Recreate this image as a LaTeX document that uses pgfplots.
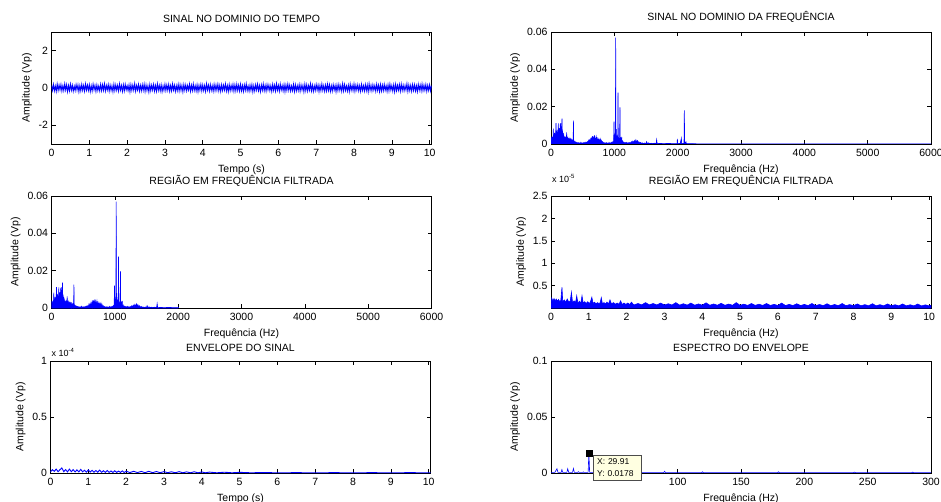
\documentclass[border=0pt]{standalone}
\usepackage{pgfplots}
\pgfplotsset{compat=1.18}
\usepackage{pgfplotstable}
\usepackage{fontspec}
\setmainfont{Liberation Sans}

\pgfplotsset{
  mat/.style={
    scale only axis, width=380pt, height=112pt,
    anchor=south west,
    axis line style={black, line width=0.6pt},
    tick style={black, line width=0.5pt},
    major tick length=4pt,
    tick align=inside,
    xtick pos=both, ytick pos=both,
    xticklabel pos=lower, yticklabel pos=left,
    scaled y ticks=false, scaled x ticks=false,
    tick label style={font=\fontsize{10.5}{12}\selectfont},
    xticklabel style={yshift=-1.5pt},
    label style={font=\fontsize{10.5}{12}\selectfont},
    xlabel style={yshift=-1.5pt},
    title style={font=\fontsize{10.5}{12}\selectfont},
    clip mode=individual,
    ylabel={Amplitude (Vp)},
  },
  sig/.style={blue, line width=0.6pt, mark=none},
}

% espectro (Hz, Vp) - regiao ate 2000 Hz
\pgfplotstableread{
f a
0 0.001
5 0.004
10 0.001
15 0.003
20 0.0015
25 0.004
30 0.002
37 0.0082
40 0.002
45 0.005
50 0.002
55 0.006
60 0.0025
65 0.0055
70 0.003
75 0.0065
79 0.0112
83 0.003
88 0.006
92 0.0035
96 0.0075
100 0.003
105 0.0065
110 0.004
116 0.0110
120 0.004
125 0.007
130 0.003
135 0.0085
140 0.004
146 0.0105
150 0.004
153 0.0112
157 0.005
162 0.0075
166 0.004
170 0.009
174 0.0136
178 0.005
183 0.007
188 0.003
193 0.006
198 0.002
203 0.005
208 0.0015
213 0.004
218 0.002
223 0.0035
228 0.0015
233 0.004
238 0.0015
243 0.003
247 0.0062
251 0.002
256 0.0035
261 0.0015
266 0.004
271 0.001
276 0.003
281 0.0012
286 0.0025
291 0.001
296 0.002
301 0.0008
306 0.0022
311 0.0008
316 0.002
321 0.0007
326 0.0018
331 0.0006
336 0.0015
341 0.0006
346 0.002
350 0.0006
354 0.0125
358 0.0006
363 0.0015
370 0.0005
378 0.0012
386 0.0004
394 0.001
402 0.0004
412 0.0008
422 0.0003
432 0.0007
442 0.0003
452 0.0006
462 0.0002
472 0.0009
482 0.0003
492 0.0006
502 0.0002
512 0.0007
522 0.0003
532 0.0008
542 0.0003
552 0.001
562 0.0004
572 0.0012
582 0.0005
590 0.0018
598 0.0006
606 0.002
614 0.0008
622 0.0025
630 0.0009
638 0.0028
646 0.001
654 0.0042
662 0.0012
670 0.0032
678 0.0012
686 0.0046
694 0.0013
702 0.003
710 0.0012
718 0.0035
726 0.001
734 0.0027
742 0.0011
750 0.0025
758 0.0009
766 0.0022
774 0.0008
782 0.0024
790 0.0007
798 0.0018
806 0.0005
816 0.0012
826 0.0004
836 0.0008
846 0.0003
856 0.0006
866 0.0003
876 0.0007
886 0.0002
896 0.0005
906 0.0002
916 0.0008
926 0.0003
936 0.0006
946 0.0003
956 0.0009
966 0.0004
976 0.0012
984 0.0005
990 0.002
995 0.012
999 0.002
1004 0.0045
1008 0.0015
1013 0.006
1017 0.002
1021 0.0570
1025 0.002
1030 0.008
1034 0.0018
1040 0.0045
1045 0.0015
1050 0.003
1054 0.0012
1058 0.0275
1062 0.0015
1068 0.0035
1073 0.001
1078 0.003
1083 0.001
1089 0.0196
1093 0.001
1100 0.0025
1106 0.0008
1116 0.0038
1122 0.0006
1132 0.0015
1140 0.0005
1150 0.001
1160 0.0004
1172 0.0008
1184 0.0003
1196 0.0009
1208 0.0003
1220 0.0007
1232 0.0003
1244 0.0008
1256 0.0004
1268 0.0012
1280 0.0005
1292 0.0015
1304 0.0006
1316 0.0018
1328 0.0007
1340 0.0022
1352 0.0008
1364 0.0018
1376 0.0006
1388 0.0012
1400 0.0004
1415 0.0008
1430 0.0003
1445 0.0006
1460 0.0002
1480 0.0005
1500 0.0002
1510 0.0012
1520 0.0002
1540 0.0006
1560 0.0002
1580 0.0004
1600 0.0002
1630 0.0004
1660 0.0002
1668 0.0023
1676 0.0002
1720 0.0003
1780 0.0002
1850 0.0003
1920 0.0002
1990 0.0002
}\specA

% espectro acima de 2000 Hz
\pgfplotstableread{
f a
1990 0.0002
1995 0.0027
2000 0.0002
2040 0.0003
2058 0.003
2064 0.0002
2100 0.0003
2105 0.018
2110 0.0003
2131 0.0012
2136 0.0002
2300 0.0001
6000 0.0001
}\specB

\begin{document}
\begin{tikzpicture}
\useasboundingbox (0pt,0pt) rectangle (941pt,-502pt);

% ---- sinal no tempo
\begin{axis}[mat, at={(51.5pt,-144pt)},
  title={SINAL NO DOMINIO DO TEMPO}, xlabel={Tempo (s)},
  xmin=0, xmax=10.05, ymin=-3, ymax=3,
  xtick={0,1,...,10}, xticklabels={0,1,2,3,4,5,6,7,8,9,10},
  ytick={-2,0,2}, yticklabels={-2,0,2}]
\addplot[sig, line width=0.9pt] coordinates {
(0,0.14)(0.025,-0.12)(0.05,0.19)(0.075,-0.15)(0.1,0.11)(0.125,-0.18)(0.15,0.21)(0.175,-0.13)(0.2,0.16)(0.225,-0.10)
(0.25,0.18)(0.275,-0.16)(0.3,0.12)(0.325,-0.14)(0.35,0.22)(0.375,-0.11)(0.4,0.17)(0.425,-0.19)(0.45,0.13)(0.475,-0.15)
(0.5,0.20)(0.525,-0.12)(0.55,0.15)(0.575,-0.17)(0.6,0.10)(0.625,-0.14)(0.65,0.18)(0.675,-0.11)(0.7,0.16)(0.725,-0.20)
(0.75,0.13)(0.775,-0.15)(0.8,0.19)(0.825,-0.12)(0.85,0.14)(0.875,-0.17)(0.9,0.21)(0.925,-0.11)(0.95,0.15)(0.975,-0.13)
(1,0.17)(1.025,-0.19)(1.05,0.12)(1.075,-0.16)(1.1,0.20)(1.125,-0.10)(1.15,0.14)(1.175,-0.18)(1.2,0.16)(1.225,-0.13)
(1.25,0.11)(1.275,-0.15)(1.3,0.19)(1.325,-0.14)(1.35,0.17)(1.375,-0.12)(1.4,0.22)(1.425,-0.16)(1.45,0.13)(1.475,-0.11)
(1.5,0.18)(1.525,-0.17)(1.55,0.15)(1.575,-0.13)(1.6,0.12)(1.625,-0.19)(1.65,0.20)(1.675,-0.14)(1.7,0.16)(1.725,-0.12)
(1.75,0.14)(1.775,-0.16)(1.8,0.21)(1.825,-0.11)(1.85,0.13)(1.875,-0.18)(1.9,0.17)(1.925,-0.15)(1.95,0.19)(1.975,-0.10)
(2,0.12)(2.025,-0.14)(2.05,0.16)(2.075,-0.20)(2.1,0.18)(2.125,-0.13)(2.15,0.15)(2.175,-0.12)(2.2,0.23)(2.225,-0.17)
(2.25,0.13)(2.275,-0.11)(2.3,0.19)(2.325,-0.16)(2.35,0.14)(2.375,-0.15)(2.4,0.17)(2.425,-0.12)(2.45,0.20)(2.475,-0.18)
(2.5,0.16)(2.525,-0.13)(2.55,0.12)(2.575,-0.21)(2.6,0.18)(2.625,-0.14)(2.65,0.15)(2.675,-0.11)(2.7,0.19)(2.725,-0.16)
(2.75,0.13)(2.775,-0.17)(2.8,0.22)(2.825,-0.12)(2.85,0.14)(2.875,-0.15)(2.9,0.17)(2.925,-0.19)(2.95,0.11)(2.975,-0.13)
(3,0.20)(3.025,-0.14)(3.05,0.16)(3.075,-0.12)(3.1,0.18)(3.125,-0.17)(3.15,0.13)(3.175,-0.15)(3.2,0.21)(3.225,-0.11)
(3.25,0.15)(3.275,-0.18)(3.3,0.12)(3.325,-0.14)(3.35,0.19)(3.375,-0.16)(3.4,0.17)(3.425,-0.13)(3.45,0.14)(3.475,-0.20)
(3.5,0.18)(3.525,-0.12)(3.55,0.16)(3.575,-0.15)(3.6,0.13)(3.625,-0.11)(3.65,0.20)(3.675,-0.17)(3.7,0.15)(3.725,-0.14)
(3.75,0.21)(3.775,-0.13)(3.8,0.12)(3.825,-0.16)(3.85,0.17)(3.875,-0.19)(3.9,0.14)(3.925,-0.12)(3.95,0.19)(3.975,-0.15)
(4,0.16)(4.025,-0.14)(4.05,0.13)(4.075,-0.18)(4.1,0.22)(4.125,-0.11)(4.15,0.15)(4.175,-0.16)(4.2,0.18)(4.225,-0.13)
(4.25,0.12)(4.275,-0.17)(4.3,0.19)(4.325,-0.14)(4.35,0.16)(4.375,-0.12)(4.4,0.20)(4.425,-0.15)(4.45,0.14)(4.475,-0.18)
(4.5,0.17)(4.525,-0.13)(4.55,0.15)(4.575,-0.11)(4.6,0.21)(4.625,-0.16)(4.65,0.13)(4.675,-0.19)(4.7,0.18)(4.725,-0.14)
(4.75,0.14)(4.775,-0.12)(4.8,0.19)(4.825,-0.17)(4.85,0.16)(4.875,-0.15)(4.9,0.20)(4.925,-0.13)(4.95,0.15)(4.975,-0.16)
(5,0.19)(5.025,-0.15)(5.05,0.13)(5.075,-0.18)(5.1,0.16)(5.125,-0.12)(5.15,0.22)(5.175,-0.14)(5.2,0.11)(5.225,-0.17)
(5.25,0.15)(5.275,-0.13)(5.3,0.18)(5.325,-0.20)(5.35,0.12)(5.375,-0.16)(5.4,0.17)(5.425,-0.11)(5.45,0.20)(5.475,-0.14)
(5.5,0.13)(5.525,-0.19)(5.55,0.16)(5.575,-0.12)(5.6,0.21)(5.625,-0.15)(5.65,0.14)(5.675,-0.17)(5.7,0.18)(5.725,-0.10)
(5.75,0.16)(5.775,-0.14)(5.8,0.12)(5.825,-0.18)(5.85,0.19)(5.875,-0.13)(5.9,0.15)(5.925,-0.16)(5.95,0.22)(5.975,-0.12)
(6,0.14)(6.025,-0.17)(6.05,0.20)(6.075,-0.11)(6.1,0.13)(6.125,-0.15)(6.15,0.18)(6.175,-0.19)(6.2,0.16)(6.225,-0.13)
(6.25,0.21)(6.275,-0.12)(6.3,0.15)(6.325,-0.16)(6.35,0.11)(6.375,-0.14)(6.4,0.19)(6.425,-0.18)(6.45,0.17)(6.475,-0.15)
(6.5,0.12)(6.525,-0.13)(6.55,0.18)(6.575,-0.17)(6.6,0.16)(6.625,-0.11)(6.65,0.14)(6.675,-0.20)(6.7,0.20)(6.725,-0.14)
(6.75,0.17)(6.775,-0.16)(6.8,0.13)(6.825,-0.12)(6.85,0.22)(6.875,-0.15)(6.9,0.15)(6.925,-0.18)(6.95,0.12)(6.975,-0.13)
(7,0.19)(7.025,-0.11)(7.05,0.16)(7.075,-0.19)(7.1,0.14)(7.125,-0.14)(7.15,0.21)(7.175,-0.12)(7.2,0.13)(7.225,-0.17)
(7.25,0.15)(7.275,-0.15)(7.3,0.20)(7.325,-0.13)(7.35,0.17)(7.375,-0.18)(7.4,0.12)(7.425,-0.16)(7.45,0.18)(7.475,-0.11)
(7.5,0.14)(7.525,-0.20)(7.55,0.16)(7.575,-0.14)(7.6,0.19)(7.625,-0.12)(7.65,0.13)(7.675,-0.17)(7.7,0.22)(7.725,-0.15)
(7.75,0.18)(7.775,-0.13)(7.8,0.11)(7.825,-0.16)(7.85,0.15)(7.875,-0.19)(7.9,0.20)(7.925,-0.12)(7.95,0.14)(7.975,-0.14)
(8,0.21)(8.025,-0.17)(8.05,0.15)(8.075,-0.11)(8.1,0.17)(8.125,-0.15)(8.15,0.13)(8.175,-0.18)(8.2,0.19)(8.225,-0.13)
(8.25,0.12)(8.275,-0.16)(8.3,0.18)(8.325,-0.14)(8.35,0.16)(8.375,-0.20)(8.4,0.22)(8.425,-0.12)(8.45,0.14)(8.475,-0.15)
(8.5,0.17)(8.525,-0.11)(8.55,0.13)(8.575,-0.17)(8.6,0.20)(8.625,-0.13)(8.65,0.15)(8.675,-0.19)(8.7,0.18)(8.725,-0.16)
(8.75,0.15)(8.775,-0.14)(8.8,0.19)(8.825,-0.12)(8.85,0.12)(8.875,-0.18)(8.9,0.17)(8.925,-0.15)(8.95,0.21)(8.975,-0.11)
(9,0.13)(9.025,-0.16)(9.05,0.16)(9.075,-0.20)(9.1,0.19)(9.125,-0.14)(9.15,0.14)(9.175,-0.12)(9.2,0.18)(9.225,-0.17)
(9.25,0.20)(9.275,-0.13)(9.3,0.15)(9.325,-0.15)(9.35,0.13)(9.375,-0.11)(9.4,0.22)(9.425,-0.18)(9.45,0.16)(9.475,-0.14)
(9.5,0.14)(9.525,-0.17)(9.55,0.18)(9.575,-0.13)(9.6,0.17)(9.625,-0.16)(9.65,0.12)(9.675,-0.19)(9.7,0.19)(9.725,-0.12)
(9.75,0.16)(9.775,-0.15)(9.8,0.21)(9.825,-0.14)(9.85,0.15)(9.875,-0.12)(9.9,0.18)(9.925,-0.17)(9.95,0.14)(9.975,-0.13)
(10,0.17)(10.025,-0.15)(10.05,0.13)};
\end{axis}

% ---- sinal na frequencia
\begin{axis}[mat, at={(551pt,-144pt)},
  title={SINAL NO DOMINIO DA FREQUÊNCIA}, xlabel={Frequência (Hz)},
  xmin=0, xmax=6000, ymin=0, ymax=0.06,
  xtick={0,1000,...,6000}, xticklabels={0,1000,2000,3000,4000,5000,6000},
  ytick={0,0.02,0.04,0.06}, yticklabels={0,0.02,0.04,0.06}]
\addplot[sig, fill=blue] table[x=f, y=a] {\specA} \closedcycle;
\addplot[sig, fill=blue] table[x=f, y=a] {\specB} \closedcycle;
\end{axis}

% ---- regiao filtrada
\begin{axis}[mat, at={(51.5pt,-308pt)},
  title={REGIÃO EM FREQUÊNCIA FILTRADA}, xlabel={Frequência (Hz)},
  xmin=0, xmax=6000, ymin=0, ymax=0.06,
  xtick={0,1000,...,6000}, xticklabels={0,1000,2000,3000,4000,5000,6000},
  ytick={0,0.02,0.04,0.06}, yticklabels={0,0.02,0.04,0.06}]
\addplot[sig, fill=blue] table[x=f, y=a] {\specA} \closedcycle;
\addplot[sig] coordinates {(1990,0.0002)(2000,0.0002)};
\end{axis}

% ---- regiao filtrada (baixa frequencia), valores x 1e-5
\begin{axis}[mat, at={(551pt,-308pt)},
  title={REGIÃO EM FREQUÊNCIA FILTRADA}, xlabel={Frequência (Hz)},
  xmin=0, xmax=10.05, ymin=0, ymax=2.5,
  xtick={0,1,...,10}, xticklabels={0,1,2,3,4,5,6,7,8,9,10},
  ytick={0.5,1,1.5,2,2.5}, yticklabels={0.5,1,1.5,2,2.5}]
\addplot[sig, fill=blue] coordinates {
(0,0.05)(0.02,0.22)(0.05,0.15)(0.08,0.21)(0.11,0.16)(0.14,0.2)(0.17,0.15)(0.2,0.19)(0.23,0.14)(0.26,0.17)
(0.29,0.46)(0.31,0.14)(0.35,0.18)(0.39,0.13)(0.43,0.2)(0.47,0.13)(0.51,0.16)(0.54,0.35)(0.57,0.12)(0.61,0.16)
(0.65,0.12)(0.68,0.27)(0.71,0.11)(0.75,0.15)(0.79,0.11)(0.82,0.27)(0.85,0.11)(0.89,0.14)(0.93,0.1)(0.97,0.14)
(1.01,0.1)(1.04,0.13)(1.08,0.24)(1.11,0.1)(1.15,0.13)(1.19,0.095)(1.23,0.12)(1.27,0.095)(1.30,0.12)(1.33,0.23)
(1.36,0.09)(1.40,0.12)(1.44,0.09)(1.48,0.13)(1.52,0.09)(1.56,0.18)(1.60,0.09)(1.65,0.12)(1.70,0.085)(1.75,0.11)
(1.80,0.085)(1.84,0.16)(1.88,0.08)(1.93,0.11)(1.98,0.08)(2.03,0.11)(2.08,0.08)(2.13,0.13)(2.18,0.075)
(2.2,0.07)(2.3,0.1)(2.4,0.07)(2.5,0.12)(2.6,0.07)(2.7,0.1)(2.8,0.068)(2.9,0.11)(3.0,0.066)(3.1,0.095)
(3.2,0.066)(3.3,0.12)(3.4,0.065)(3.5,0.095)(3.6,0.064)(3.7,0.11)(3.8,0.063)(3.9,0.09)(4.0,0.062)(4.1,0.115)
(4.2,0.062)(4.3,0.09)(4.4,0.061)(4.5,0.105)(4.6,0.06)(4.7,0.088)(4.8,0.06)(4.9,0.12)(5.0,0.059)(5.1,0.085)
(5.2,0.058)(5.3,0.1)(5.4,0.058)(5.5,0.085)(5.6,0.057)(5.7,0.1)(5.8,0.056)(5.9,0.082)(6.0,0.056)(6.1,0.11)
(6.2,0.055)(6.3,0.08)(6.4,0.055)(6.5,0.095)(6.6,0.054)(6.7,0.08)(6.8,0.054)(6.9,0.1)(7.0,0.053)(7.1,0.078)
(7.2,0.053)(7.3,0.095)(7.4,0.052)(7.5,0.078)(7.6,0.052)(7.7,0.1)(7.8,0.051)(7.9,0.076)(8.0,0.051)(8.1,0.09)
(8.2,0.05)(8.3,0.075)(8.4,0.05)(8.5,0.095)(8.6,0.05)(8.7,0.074)(8.8,0.049)(8.9,0.09)(9.0,0.049)(9.1,0.073)
(9.2,0.048)(9.3,0.09)(9.4,0.048)(9.5,0.072)(9.6,0.048)(9.7,0.088)(9.8,0.047)(9.9,0.07)(10.0,0.047)(10.05,0.06)
} \closedcycle;
\node[anchor=south west, inner sep=1pt, yshift=12pt, font=\fontsize{9}{10}\selectfont] at (rel axis cs:0,1) {x 10\textsuperscript{-5}};
\end{axis}

% ---- envelope, valores x 1e-4
\begin{axis}[mat, at={(50.5pt,-473pt)},
  title={ENVELOPE DO SINAL}, xlabel={Tempo (s)},
  xmin=0, xmax=10.05, ymin=0, ymax=1,
  xtick={0,1,...,10}, xticklabels={0,1,2,3,4,5,6,7,8,9,10},
  ytick={0,0.5,1}, yticklabels={0,0.5,1}]
\addplot[sig, line width=0.9pt] coordinates {
(0,0.01)(0.05,0.03)(0.1,0.015)(0.15,0.035)(0.2,0.012)(0.25,0.03)(0.3,0.045)(0.35,0.012)(0.4,0.03)(0.45,0.01)
(0.5,0.035)(0.55,0.012)(0.6,0.03)(0.65,0.01)(0.7,0.028)(0.75,0.01)(0.8,0.032)(0.85,0.01)(0.9,0.025)(0.95,0.008)
(1.0,0.028)(1.05,0.008)(1.1,0.024)(1.15,0.007)(1.2,0.022)(1.25,0.007)(1.3,0.026)(1.35,0.006)(1.4,0.02)(1.45,0.006)
(1.5,0.022)(1.55,0.006)(1.6,0.018)(1.65,0.005)(1.7,0.02)(1.75,0.005)(1.8,0.017)(1.85,0.005)(1.9,0.019)(1.95,0.004)
(2.0,0.016)(2.1,0.004)(2.2,0.015)(2.3,0.004)(2.4,0.014)(2.5,0.003)(2.6,0.015)(2.7,0.003)(2.8,0.013)(2.9,0.003)
(3.0,0.012)(3.1,0.003)(3.2,0.011)(3.3,0.002)(3.4,0.012)(3.5,0.002)(3.6,0.01)(3.7,0.002)(3.8,0.011)(3.9,0.002)
(4.0,0.009)(4.1,0.002)(4.2,0.008)(4.4,0.002)(4.6,0.007)(4.8,0.002)(5.0,0.006)(5.3,0.002)(5.6,0.004)(6.0,0.002)
(6.5,0.003)(7.0,0.002)(7.5,0.003)(8.0,0.002)(8.5,0.003)(9.0,0.002)(9.5,0.003)(10.05,0.002)};
\node[anchor=south west, inner sep=1pt, yshift=3pt, font=\fontsize{9}{10}\selectfont] at (rel axis cs:0,1) {x 10\textsuperscript{-4}};
\end{axis}

% ---- espectro do envelope
\begin{axis}[mat, at={(551pt,-473pt)},
  title={ESPECTRO DO ENVELOPE}, xlabel={Frequência (Hz)},
  xmin=0, xmax=300, ymin=0, ymax=0.1,
  xtick={0,50,...,300}, xticklabels={,,100,150,200,250,300},
  ytick={0,0.05,0.1}, yticklabels={0,0.05,0.1}]
\addplot[sig] coordinates {
(0,0.0005)(3,0.0005)(4.7,0.0038)(5.5,0.0005)(8,0.0005)(8.6,0.003)(9.3,0.0005)(12.5,0.0005)(13.2,0.0038)(14,0.0005)
(17,0.0006)(17.7,0.004)(18.4,0.0006)(21,0.0006)(21.6,0.0012)(22.2,0.0005)(25,0.0005)(25.5,0.001)(26,0.0005)
(29.3,0.0005)(29.91,0.0178)(30.5,0.0005)(40,0.0005)(44,0.0004)(44.5,0.0012)(45,0.0004)(60,0.0004)(60.5,0.001)
(61,0.0004)(89,0.0004)(89.7,0.0015)(90.4,0.0004)(119,0.0004)(119.6,0.001)(120.2,0.0004)(150,0.0004)(179,0.0004)
(179.6,0.001)(180.2,0.0004)(210,0.0004)(239,0.0004)(239.6,0.0008)(240.2,0.0004)(270,0.0004)(285,0.0004)
(285.5,0.0008)(286,0.0004)(300,0.0004)};
\addplot[only marks, mark=square*, mark size=3pt, black] coordinates {(29.91,0.0178)};
\coordinate (tip) at (axis cs:33.5,0.016);
\end{axis}
\node[anchor=north west, draw=black!70, fill={rgb,255:red,255;green,255;blue,225},
  inner xsep=3.5pt, inner ysep=3.5pt, text width=41pt, align=left,
  font=\fontsize{8.5}{12}\selectfont] at (tip) {X: 29.91\\Y: 0.0178};
\end{tikzpicture}
\end{document}
